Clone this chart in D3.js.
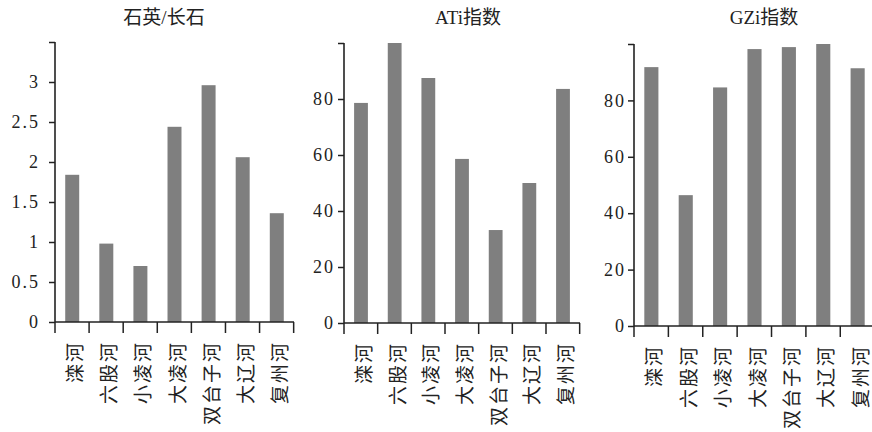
<!DOCTYPE html>
<html>
<head>
<meta charset="utf-8">
<script src="https://d3js.org/d3.v7.min.js"></script>
<style>
  body { margin: 0; background: #fff; }
  svg { display: block; }
</style>
</head>
<body>
<div id="chart"></div>
<script>
// Data
var categories = ["滦河", "六股河", "小凌河", "大凌河", "双台子河", "大辽河", "复州河"];
var titles = ["石英/长石", "ATi指数", "GZi指数"];
var quartzFeldspar = [1.84, 0.98, 0.70, 2.44, 2.96, 2.06, 1.36];
var atiIndex = [78.6, 100, 87.5, 58.6, 33.2, 50, 83.6];
var gziIndex = [91.8, 46.4, 84.6, 98.2, 98.9, 100, 91.4];
var ticks1 = [0, 0.5, 1, 1.5, 2, 2.5, 3, 3.5];
var ticks2 = [0, 20, 40, 60, 80, 100];

var width = 872;
var height = 432;

var svg = d3.select("#chart")
  .append("svg")
  .attr("width", width)
  .attr("height", height);

// panel layouts (pixel boxes)
var panels = [
  { title: titles[0], values: quartzFeldspar, ticks: ticks1, max: 3.5, x0: 55, x1: 294, y0: 42, y1: 322, tx: 164, pad: 9 },
  { title: titles[1], values: atiIndex, ticks: ticks2, max: 100, x0: 344, x1: 580, y0: 43, y1: 323, tx: 468, pad: 3 },
  { title: titles[2], values: gziIndex, ticks: ticks2, max: 100, x0: 634, x1: 875, y0: 44, y1: 326, tx: 764, pad: 2 }
];

var serif = "'Liberation Serif', 'DejaVu Serif', serif";
var cjk = "'Noto Sans CJK SC', sans-serif";

panels.forEach(function(p) {
  var g = svg.append("g");

  var x = d3.scaleBand()
    .domain(categories)
    .range([p.x0, p.x1])
    .paddingInner(0.59)
    .paddingOuter(0.3);

  var y = d3.scaleLinear()
    .domain([0, p.max])
    .range([p.y1, p.y0]);

  // bars
  g.selectAll("rect.bar")
    .data(p.values)
    .enter().append("rect")
    .attr("class", "bar")
    .attr("x", function(d, i) { return x(categories[i]); })
    .attr("width", x.bandwidth())
    .attr("y", function(d) { return y(d); })
    .attr("height", function(d) { return p.y1 - y(d); })
    .style("fill", "#7f7f7f");

  // y axis
  var yAxis = d3.axisLeft(y)
    .tickValues(p.ticks)
    .tickSize(6)
    .tickPadding(p.pad)
    .tickFormat(function(d) { return d === p.max ? "" : d; });

  var ya = g.append("g")
    .attr("transform", "translate(" + p.x0 + ",0)")
    .call(yAxis);
  ya.attr("font-family", null);
  ya.select(".domain").remove();
  ya.append("line")
    .attr("x1", 0).attr("x2", 0)
    .attr("y1", p.y0).attr("y2", p.y1)
    .style("stroke", "#222").style("stroke-width", 1.6);
  ya.selectAll(".tick line").style("stroke", "#222").style("stroke-width", 1.5);
  ya.selectAll(".tick text")
    .attr("font-family", serif)
    .style("font-family", serif)
    .style("font-size", "18px")
    .style("letter-spacing", "2px")
    .style("fill", "#222");

  // x axis: line plus boundary ticks
  var step = x.step();
  g.append("line")
    .attr("x1", p.x0).attr("x2", p.x1)
    .attr("y1", p.y1).attr("y2", p.y1)
    .style("stroke", "#222").style("stroke-width", 1.6);
  g.selectAll("line.xtick")
    .data(d3.range(categories.length + 1))
    .enter().append("line")
    .attr("class", "xtick")
    .attr("x1", function(i) { return p.x0 + i * step; })
    .attr("x2", function(i) { return p.x0 + i * step; })
    .attr("y1", p.y1)
    .attr("y2", p.y1 + 11)
    .style("stroke", "#222").style("stroke-width", 1.5);

  // rotated category labels, reading bottom to top
  g.selectAll("text.cat")
    .data(categories)
    .enter().append("text")
    .attr("class", "cat")
    .attr("transform", function(c) {
      var cx = x(c) + x.bandwidth() / 2 + 1.5;
      return "translate(" + cx + "," + (p.y1 + 19) + ") rotate(-90)";
    })
    .attr("text-anchor", "end")
    .attr("dominant-baseline", "central")
    .style("font-family", cjk)
    .style("font-size", "19px")
    .style("letter-spacing", "2px")
    .style("fill", "#222")
    .text(function(c) { return c; });

  // title
  svg.append("text")
    .attr("x", p.tx)
    .attr("y", 24)
    .attr("text-anchor", "middle")
    .style("font-family", serif + ", " + cjk)
    .style("font-size", "19px")
    .style("fill", "#222")
    .text(p.title);
});
</script>
</body>
</html>
